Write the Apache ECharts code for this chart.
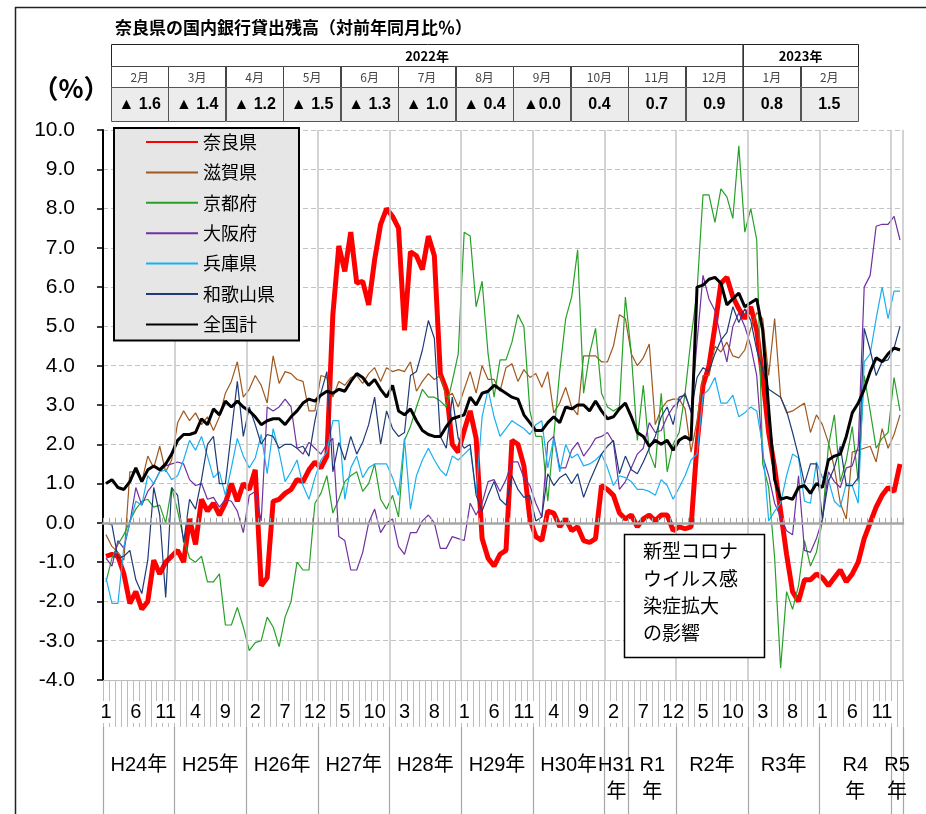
<!DOCTYPE html>
<html><head><meta charset="utf-8">
<script src="https://cdn.jsdelivr.net/npm/echarts@6/dist/echarts.min.js"></script>
<style>html,body{margin:0;padding:0;background:#fff}#c{width:926px;height:814px}</style>
</head><body><div id="c"></div>
<script>
// ---- data (monthly, Jan 2012 (H24) .. Feb 2023 (R5)) ----
const seriesNames = ['奈良県','滋賀県','京都府','大阪府','兵庫県','和歌山県','全国計'];

const nara = [
 -0.85,-0.8,-0.85,-1.3,-2.05,-1.75,-2.2,-2.0,-0.95,-1.3,-1.0,-0.85,
 -0.7,-1.0,0.1,-0.55,0.6,0.3,0.5,0.2,0.5,1.0,0.55,1.0,
 0.85,1.35,-1.6,-1.4,0.55,0.6,0.75,0.85,1.1,1.05,1.35,1.55,
 1.4,1.7,5.3,7.05,6.4,7.4,6.1,6.15,5.55,6.7,7.6,8.0,
 7.8,7.5,4.9,6.9,6.8,6.45,7.3,6.8,3.8,3.4,2.0,1.8,
 2.35,2.85,2.15,-0.4,-0.9,-1.1,-0.8,-0.7,2.1,2.0,1.45,0.1,
 -0.35,-0.45,0.3,0.25,-0.1,0.1,-0.2,-0.1,-0.45,-0.5,-0.4,0.95,
 0.85,0.7,0.25,0.1,0.2,-0.1,0.1,0.2,0.05,0.2,0.2,-0.2,
 -0.1,-0.15,-0.1,2.0,3.5,4.0,5.0,6.1,6.25,5.75,5.45,5.2,
 5.5,4.9,3.7,2.3,1.4,0.3,-0.8,-1.75,-2.0,-1.45,-1.45,-1.3,
 -1.4,-1.6,-1.4,-1.2,-1.5,-1.3,-1.0,-0.4,0.0,0.4,0.7,0.9,
 0.8,1.5];
const shiga = [
 -0.3,-0.6,-0.75,-0.95,1.3,1.3,1.05,1.7,1.4,1.95,1.3,1.6,
 2.55,2.85,2.6,2.8,2.5,2.7,2.35,2.7,3.3,3.6,4.1,3.2,
 3.4,3.75,3.5,3.05,4.25,3.55,3.85,3.8,3.65,3.6,2.85,2.85,
 3.75,3.7,3.2,3.6,3.5,3.7,3.75,3.55,3.8,3.95,3.6,3.95,
 3.85,3.9,3.85,4.1,3.35,3.6,3.8,3.65,3.75,3.2,3.3,2.95,
 3.4,3.85,3.3,4.0,3.65,3.65,3.35,3.95,4.05,3.6,3.9,3.7,
 3.8,3.45,3.85,2.8,3.05,3.45,2.95,2.75,4.25,4.25,4.25,4.1,
 4.1,4.5,5.3,5.2,4.3,4.0,4.2,4.55,2.5,2.9,3.1,3.15,
 3.15,2.9,1.8,2.6,3.75,3.75,4.5,4.35,4.6,4.25,4.2,4.4,
 4.95,5.35,5.2,3.75,5.2,3.2,2.8,2.85,2.95,3.05,2.3,2.75,
 2.5,2.05,1.4,0.5,0.1,1.8,1.85,1.9,1.95,1.55,2.4,1.9,
 2.25,2.75];
const kyoto = [
 -1.5,-0.9,-0.55,-0.3,0.05,0.35,0.55,0.6,0.4,0.45,0.0,0.9,
 0.3,-0.4,-0.9,-1.0,-0.85,-1.5,-1.5,-1.3,-2.6,-2.6,-2.15,-2.65,
 -3.25,-3.05,-3.0,-2.4,-2.65,-3.15,-2.4,-2.0,-1.0,-1.2,-1.2,0.5,
 0.75,1.2,0.25,0.6,1.05,1.2,1.3,0.8,1.0,1.5,0.6,0.35,
 0.7,0.15,2.1,2.45,2.95,3.4,3.2,3.2,3.1,2.95,3.6,4.3,
 7.4,7.3,5.5,6.15,4.3,3.2,4.15,4.15,4.6,5.3,5.0,2.85,
 2.2,2.2,0.55,2.2,3.85,5.2,5.75,6.95,3.3,4.3,4.95,3.3,
 2.95,2.85,2.95,5.75,4.3,2.1,3.5,1.8,1.4,3.3,1.3,2.0,
 2.3,3.3,4.7,5.9,8.35,8.35,7.65,8.5,8.3,7.75,9.6,7.4,
 8.0,7.2,1.5,0.9,-0.9,-3.7,-1.75,-2.2,-1.6,-0.45,-1.1,-0.75,
 0.05,1.95,2.75,1.05,1.6,2.45,1.05,3.75,2.85,1.9,2.15,2.3,
 3.7,2.85];
const osaka = [
 -0.9,-1.1,-0.45,-0.65,0.0,0.9,0.45,0.8,1.0,1.3,1.45,1.5,
 1.55,1.5,1.1,0.95,1.0,0.6,0.65,0.4,0.6,0.55,0.3,-0.25,
 0.7,0.8,0.05,2.95,2.85,2.95,3.15,2.95,1.9,1.75,2.05,1.9,
 1.75,2.0,2.15,-0.35,-0.45,-1.2,-1.2,-0.75,0.0,0.35,-0.25,0.0,
 0.1,-0.6,-0.8,-0.25,-0.25,0.05,0.2,0.0,-0.65,-0.65,-0.35,-0.4,
 -0.45,0.5,0.2,0.5,1.05,1.1,0.8,1.1,1.55,1.55,1.15,0.95,
 0.5,0.15,2.05,2.2,1.4,1.4,1.85,2.05,1.7,1.9,2.15,2.2,
 2.3,2.05,0.85,1.05,1.4,1.75,1.9,2.55,2.3,2.35,2.7,2.95,
 3.1,3.3,2.8,4.6,6.3,5.7,5.4,4.7,4.1,5.0,5.35,5.0,
 4.5,3.75,1.7,1.2,0.5,0.15,-0.2,-0.3,1.2,-0.7,-0.75,-0.4,
 0.1,1.3,1.05,0.9,1.4,1.45,1.95,6.0,6.3,7.55,7.6,7.6,
 7.8,7.2];
const hyogo = [
 -1.4,-2.05,-2.05,-0.6,0.0,0.55,0.45,1.2,1.0,1.3,1.35,1.1,
 1.2,1.6,2.1,1.85,2.2,1.7,1.15,1.3,0.7,1.4,2.15,1.7,
 1.4,1.65,2.25,1.25,2.4,1.8,1.05,1.3,1.6,0.95,0.6,1.15,
 1.6,1.8,2.6,2.6,0.6,1.4,1.7,1.15,1.4,1.5,1.5,1.5,
 1.15,0.7,2.15,0.35,1.2,1.6,1.9,1.6,1.35,1.2,1.7,1.6,
 1.75,1.9,0.75,2.7,3.4,2.7,2.2,2.4,2.6,2.5,2.4,2.25,
 2.5,2.6,1.4,2.15,1.3,2.0,1.65,1.75,1.45,1.5,1.6,1.75,
 1.4,0.95,1.2,1.15,1.05,0.85,0.85,0.8,0.7,1.1,0.95,0.6,
 0.9,1.2,1.6,1.75,3.25,3.4,3.7,3.05,3.05,3.25,2.7,2.8,
 2.95,2.85,1.95,0.05,0.3,0.5,1.2,1.75,1.65,0.55,0.5,1.55,
 1.15,1.1,0.55,0.4,1.0,0.95,0.5,4.1,4.3,5.2,6.0,5.2,
 5.9,5.9];
const wakayama = [
 0.0,-0.05,-0.9,-0.85,-0.7,-1.45,-1.8,-0.95,0.9,0.2,-1.9,0.9,
 0.7,-0.5,0.6,0.35,1.1,2.0,2.2,1.0,1.0,2.3,3.6,2.2,
 2.95,2.5,2.0,2.25,2.2,1.9,2.0,2.0,1.9,1.95,1.7,2.6,
 3.3,3.85,1.3,2.05,1.6,2.2,1.75,2.05,2.5,3.2,2.0,2.85,
 2.4,2.2,2.3,3.75,3.85,4.4,5.15,4.7,2.2,1.9,3.2,2.15,
 1.9,2.0,0.7,0.3,0.7,1.05,0.6,0.45,1.2,0.85,0.65,0.7,
 0.05,0.15,1.25,0.95,1.15,1.25,1.0,1.25,0.65,1.05,1.4,1.75,
 1.95,2.1,1.25,1.7,1.35,1.25,1.55,1.9,2.2,2.7,2.95,2.5,
 3.2,3.25,2.85,3.7,3.95,3.85,4.3,4.65,4.85,5.5,5.1,5.45,
 5.15,4.4,3.9,3.4,3.3,3.2,2.85,2.3,1.7,1.0,1.5,1.5,
 0.1,1.05,1.4,1.95,0.95,0.95,1.15,4.95,4.4,3.75,4.1,4.15,
 4.45,5.0];
const zenkoku = [
 1.0,1.1,0.9,0.85,1.05,1.4,1.05,1.35,1.45,1.35,1.5,1.75,
 2.1,2.25,2.25,2.3,2.65,2.5,2.9,2.75,3.1,2.95,3.1,2.95,
 2.85,2.7,2.5,2.6,2.65,2.65,2.5,2.7,2.85,3.05,3.15,3.1,
 3.25,3.35,3.3,3.4,3.35,3.6,3.8,3.7,3.5,3.65,3.4,3.2,
 3.5,2.85,2.75,2.9,2.6,2.35,2.25,2.2,2.2,2.45,2.65,2.7,
 2.75,3.2,3.0,3.3,3.35,3.5,3.4,3.3,3.2,3.15,2.75,2.55,
 2.35,2.35,2.55,2.7,2.55,2.95,2.9,3.0,3.0,2.85,3.1,2.85,
 2.65,2.7,2.9,3.05,2.7,2.3,2.2,1.95,2.1,2.0,2.1,1.85,
 2.1,2.2,2.1,6.0,6.05,6.2,6.25,6.1,5.55,5.7,5.85,5.5,
 5.6,5.7,4.9,2.9,1.1,0.6,0.65,0.6,0.9,0.95,0.75,1.0,
 0.9,1.6,1.7,1.75,2.2,2.8,3.05,3.4,3.85,4.2,4.1,4.3,
 4.45,4.4];

// x-axis: era-year labels and the month index where each starts
const yearLabels = ['H24年','H25年','H26年','H27年','H28年','H29年','H30年','H31\n年','R1\n年','R2年','R3年','R4\n年','R5\n年'];
const yearStarts = [0,12,24,36,48,60,72,84,88,96,108,120,132];
const monthCount = 134;

// y-axis ticks
const yMin = -4, yMax = 10, yStep = 1;

// table (2022年2月〜2023年2月, 奈良県)
const tableYearLabels = ['2022年','2023年'];
const tableYearSpans = [11, 2];
const tableMonths = ['2月','3月','4月','5月','6月','7月','8月','9月','10月','11月','12月','1月','2月'];
const tableValues = ['▲ 1.6','▲ 1.4','▲ 1.2','▲ 1.5','▲ 1.3','▲ 1.0','▲ 0.4','▲0.0','0.4','0.7','0.9','0.8','1.5'];

const titleText = '奈良県の国内銀行貸出残高（対前年同月比％）';
const noteLines = ['新型コロナ','ウイルス感','染症拡大','の影響'];

// ---- build ----
const categories = [];
for (let i = 0; i < monthCount; i++) categories.push(String(i));
function monthOf(i) { return ((i % 12) + 1); }

const yearMid = [];
const yearMidLabel = {};
for (let k = 0; k < yearStarts.length; k++) {
  const s = yearStarts[k], e = (k + 1 < yearStarts.length) ? yearStarts[k + 1] : monthCount;
  const m = (s + e) / 2;
  yearMid.push(m);
  yearMidLabel[m] = yearLabels[k];
}
const yearTicks = yearStarts.concat([monthCount]);

const JP = '"Noto Sans CJK JP", sans-serif';
const NUM = '"Liberation Sans", "Noto Sans CJK JP", sans-serif';

const colors = ['#ff0000', '#a0581e', '#26a026', '#7030a0', '#18b0f0', '#1f3a78', '#000000'];
const widths = [5, 1.2, 1.2, 1.2, 1.2, 1.2, 3];
const allData = [nara, shiga, kyoto, osaka, hyogo, wakayama, zenkoku];

const series = allData.map((d, k) => ({
  name: seriesNames[k], type: 'line', data: d, xAxisIndex: 0, yAxisIndex: 0,
  symbol: 'none', smooth: false, z: 3,
  lineStyle: { color: colors[k], width: widths[k] }, itemStyle: { color: colors[k] },
  emphasis: { disabled: true }
}));

// table graphics
const tx = 111, colW = (858 - 111) / 13;
const rY = [44, 66, 87, 121];
const g = [];
g.push({ type: 'line', shape: { x1: 15, y1: 7.5, x2: 926, y2: 7.5 }, style: { stroke: '#222', lineWidth: 1.5 } });
g.push({ type: 'line', shape: { x1: 15.5, y1: 7, x2: 15.5, y2: 814 }, style: { stroke: '#222', lineWidth: 1.5 } });
g.push({ type: 'text', style: { text: titleText, x: 115, y: 28, fill: '#000', font: 'bold 17px ' + JP, align: 'left', verticalAlign: 'middle' } });
g.push({ type: 'text', style: { text: '（%）', x: 71, y: 88, fill: '#000', font: 'bold 26px ' + JP, align: 'center', verticalAlign: 'middle' } });
let c0 = 0;
tableYearLabels.forEach((lab, k) => {
  const x = tx + c0 * colW, w = tableYearSpans[k] * colW;
  g.push({ type: 'rect', shape: { x: Math.round(x) + 0.5, y: rY[0] + 0.5, width: Math.round(w), height: rY[1] - rY[0] }, style: { fill: '#fff', stroke: '#222', lineWidth: 1 } });
  g.push({ type: 'text', style: { text: lab, x: x + w / 2, y: (rY[0] + rY[1]) / 2 + 1, fill: '#000', font: 'bold 13px ' + JP, align: 'center', verticalAlign: 'middle' } });
  c0 += tableYearSpans[k];
});
tableMonths.forEach((m, k) => {
  const x = tx + k * colW;
  g.push({ type: 'rect', shape: { x: Math.round(x) + 0.5, y: rY[1] + 0.5, width: Math.round(colW), height: rY[2] - rY[1] }, style: { fill: '#fff', stroke: '#444', lineWidth: 1 } });
  g.push({ type: 'text', style: { text: m, x: x + colW / 2, y: (rY[1] + rY[2]) / 2 + 1, fill: '#444', font: '12px ' + JP, align: 'center', verticalAlign: 'middle' } });
  g.push({ type: 'rect', shape: { x: Math.round(x) + 0.5, y: rY[2] + 0.5, width: Math.round(colW), height: rY[3] - rY[2] }, style: { fill: '#ececec', stroke: '#555', lineWidth: 1 } });
  g.push({ type: 'text', style: { text: tableValues[k], x: x + colW / 2, y: (rY[2] + rY[3]) / 2 + 1, fill: '#000', font: 'bold 16px ' + NUM, align: 'center', verticalAlign: 'middle' } });
});
g.push({ type: 'line', shape: { x1: tx + 11 * colW, y1: rY[0], x2: tx + 11 * colW, y2: rY[3] }, style: { stroke: '#333', lineWidth: 1.5 } });
// annotation box
g.push({ type: 'rect', z: 10, shape: { x: 624.5, y: 534.5, width: 140, height: 123 }, style: { fill: '#fff', stroke: '#000', lineWidth: 1.5 } });
noteLines.forEach((t, k) => {
  g.push({ type: 'text', z: 11, style: { text: t, x: 643, y: 551 + k * 27.3, fill: '#000', font: '19px ' + JP, align: 'left', verticalAlign: 'middle' } });
});

const chart = echarts.init(document.getElementById('c'), null, { renderer: 'canvas' });
chart.setOption({
  animation: false,
  backgroundColor: '#fff',
  grid: { left: 103, right: 23, top: 130, bottom: 134, containLabel: false },
  legend: {
    data: seriesNames, orient: 'vertical', left: 114, top: 128,
    padding: [5, 24, 7, 31], itemGap: 12.4, itemWidth: 52, itemHeight: 14,
    backgroundColor: '#e6e6e6', borderColor: '#000', borderWidth: 2, borderRadius: 0,
    itemStyle: { opacity: 0 },
    textStyle: { fontSize: 18, color: '#000', fontFamily: JP },
    selectedMode: false, z: 20
  },
  xAxis: [
    {
      type: 'category', data: categories, boundaryGap: true, position: 'bottom',
      axisLine: { onZero: true, lineStyle: { color: '#a6a6a6', width: 2.5 } },
      axisTick: { show: true, inside: true, length: 5, interval: 0, lineStyle: { color: '#a6a6a6', width: 1 } },
      axisLabel: { show: false },
      splitLine: { show: true, interval: (i) => i > 0 && i % 12 === 0, lineStyle: { color: '#c4c4c4', width: 1.5, type: 'solid' } },
      z: 5
    },
    {
      type: 'category', data: categories, boundaryGap: true, position: 'bottom', gridIndex: 0,
      axisLine: { onZero: false, show: true, lineStyle: { color: '#bdbdbd', width: 1 } },
      axisTick: { show: true, length: 47, interval: 0, lineStyle: { color: '#bdbdbd', width: 1 } },
      axisLabel: {
        show: true, interval: 4, margin: 21, fontSize: 20, color: '#000', fontFamily: NUM,
        formatter: (v) => String(monthOf(+v)), backgroundColor: '#fff', padding: [1, 1]
      },
      splitLine: { show: false }
    },
    {
      type: 'value', min: 0, max: monthCount, position: 'bottom', offset: 47, gridIndex: 0,
      axisLine: { show: false, onZero: false },
      axisTick: { show: true, length: 87, customValues: yearTicks, lineStyle: { color: '#a6a6a6', width: 1.2 } },
      axisLabel: {
        show: true, customValues: yearMid, margin: 25, fontSize: 20, lineHeight: 27, color: '#000', fontFamily: NUM,
        formatter: (v) => yearMidLabel[v] || ''
      },
      splitLine: { show: false }
    }
  ],
  yAxis: {
    type: 'value', min: yMin, max: yMax, interval: yStep,
    axisLine: { show: true, lineStyle: { color: '#000', width: 2 } },
    axisTick: { show: true, length: 6, lineStyle: { color: '#000', width: 1.5 } },
    axisLabel: { fontSize: 21, color: '#000', margin: 28, fontFamily: NUM, formatter: (v) => v.toFixed(1) },
    splitLine: { show: true, lineStyle: { color: '#c4c4c4', width: 1, type: [5, 3] } }
  },
  series: series,
  graphic: { elements: g }
});
</script>
</body></html>
